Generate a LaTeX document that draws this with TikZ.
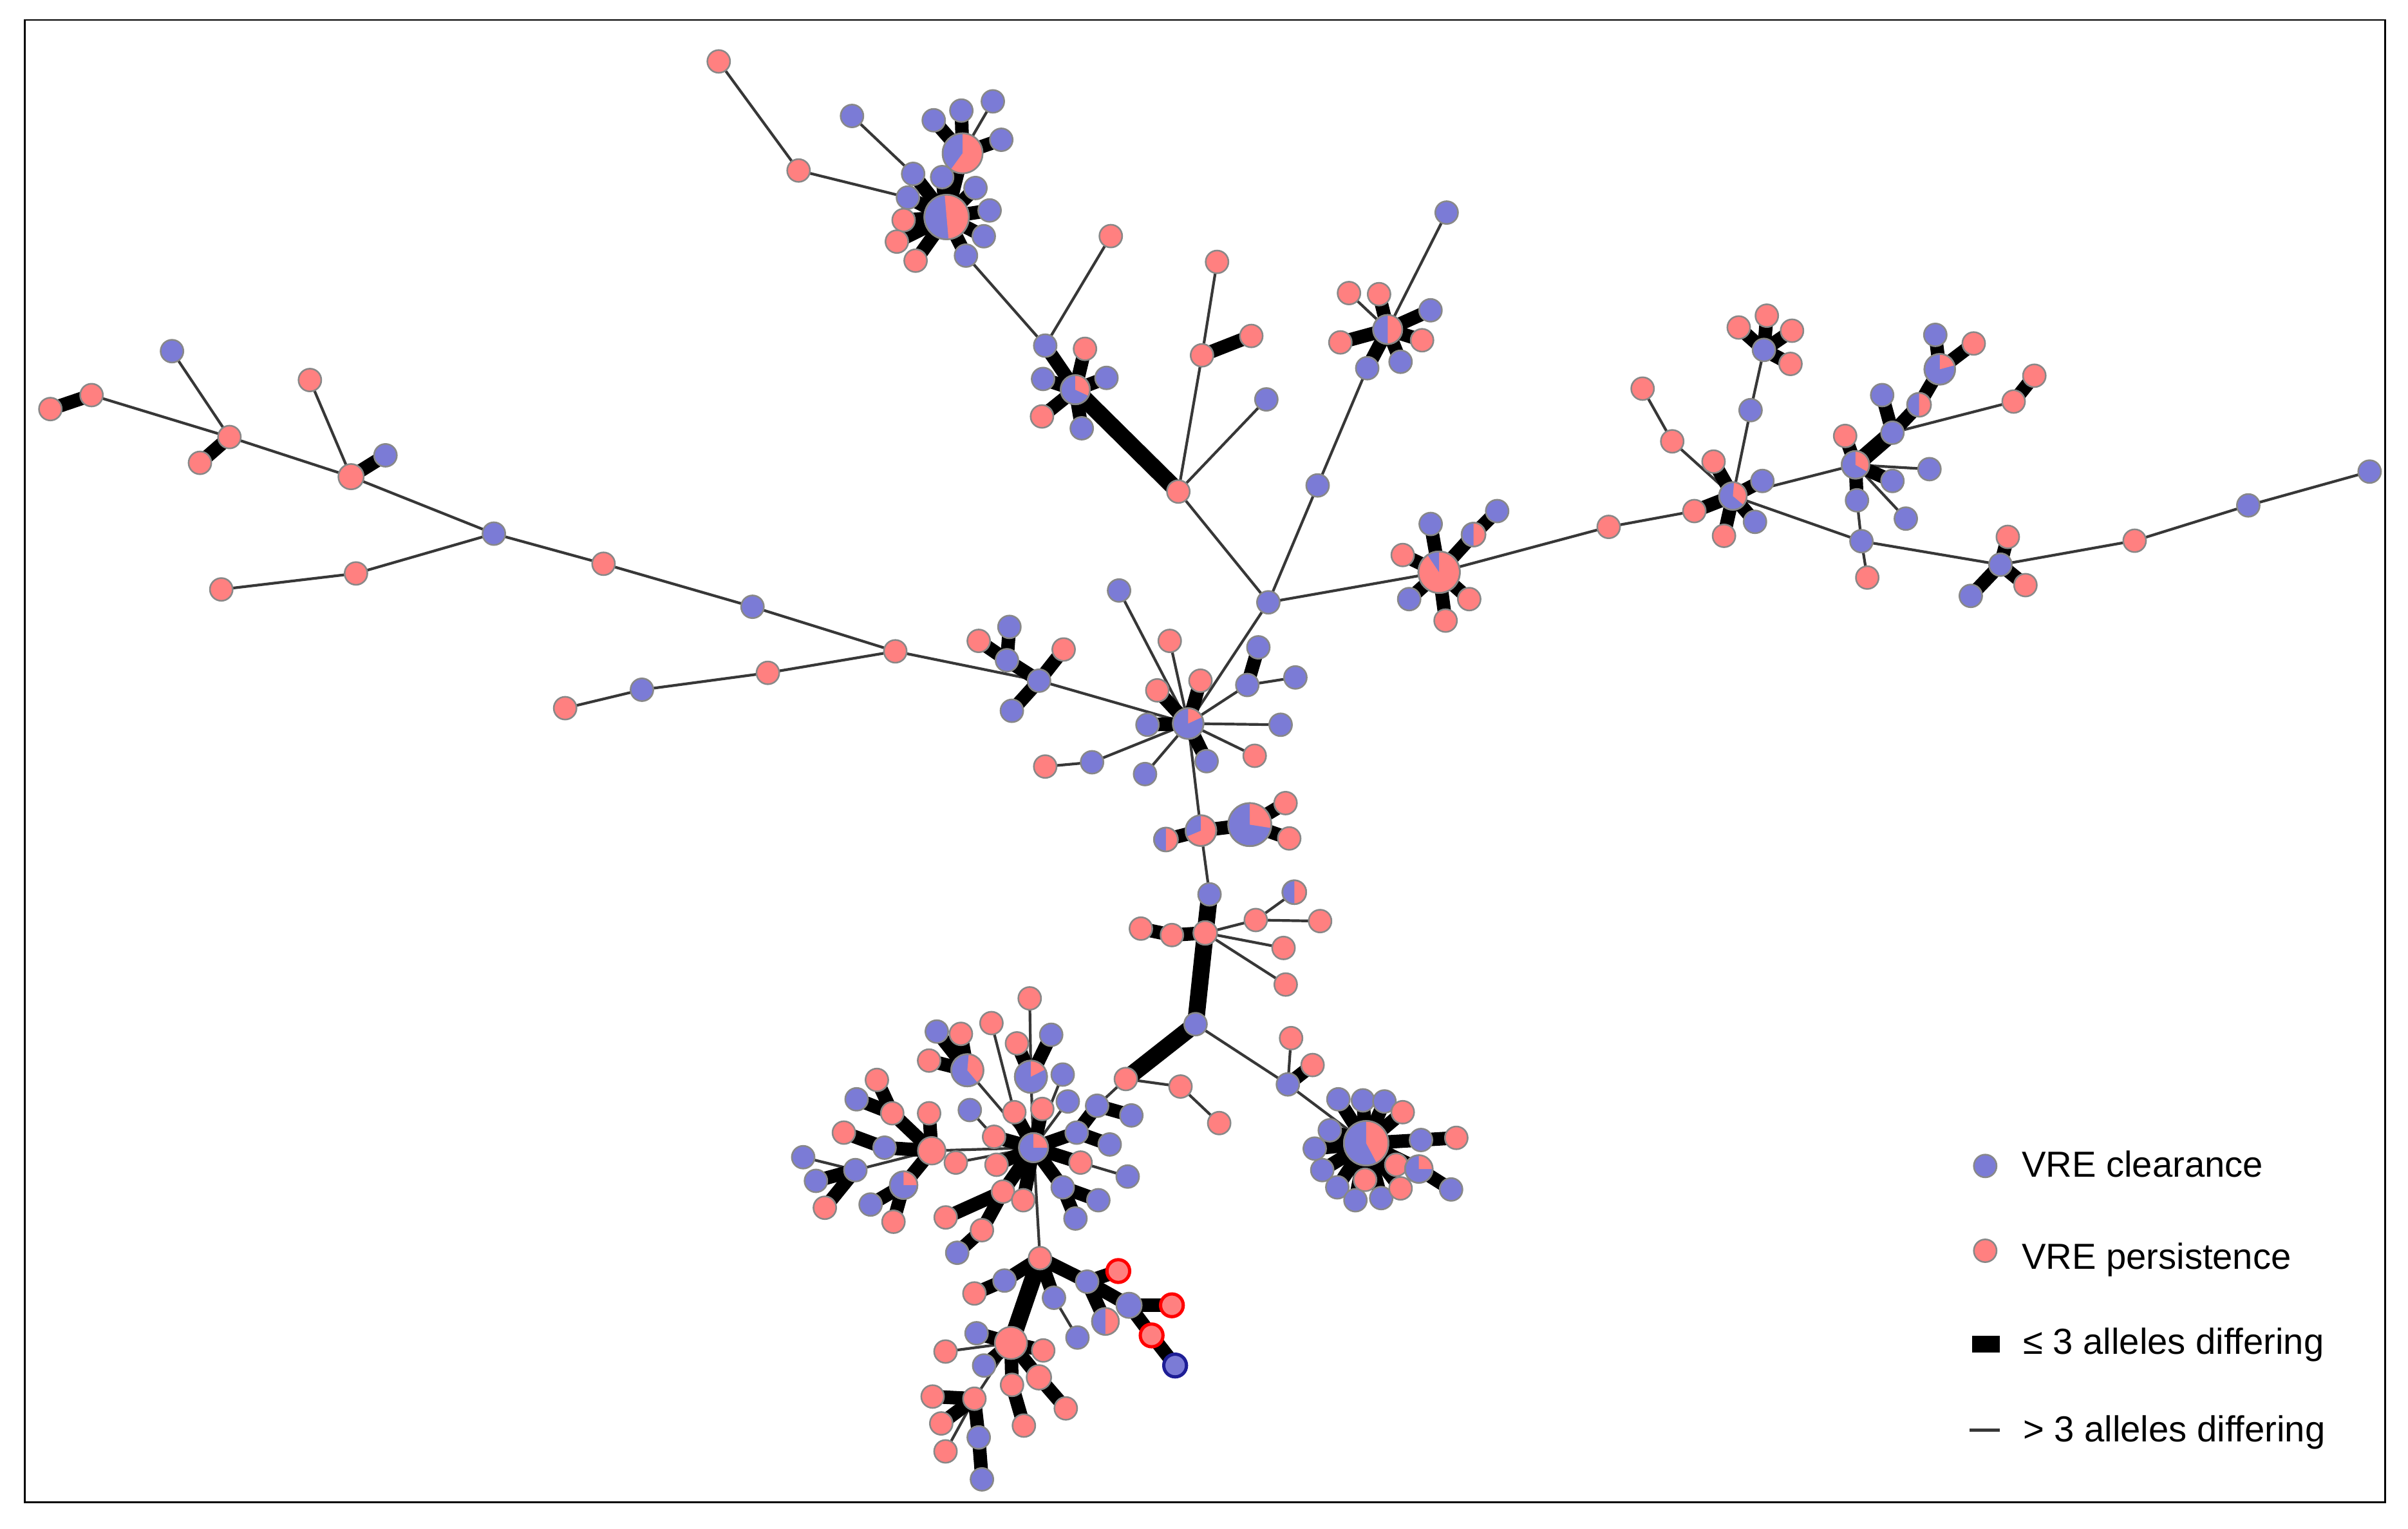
\documentclass[tikz,border=0pt]{standalone}
\usepackage{fontspec}
\setmainfont{Liberation Sans}
\pgfdeclarelayer{bgzero}
\pgfdeclarelayer{edges}
\pgfsetlayers{bgzero,edges,main}
\definecolor{vb}{RGB}{123,123,214}
\definecolor{vr}{RGB}{255,128,128}
\definecolor{ndg}{RGB}{136,136,136}
\definecolor{edg}{RGB}{55,55,55}
\definecolor{navyb}{RGB}{30,30,150}
\newcommand\pwedge[5]{\fill[#5] (#1.center) -- ++(#3:#2) arc[start angle=#3,end angle=#4,radius=#2] -- cycle; \draw[draw=ndg,line width=0.3pt] (#1.center) circle[radius=#2];}
\begin{document}
\begin{tikzpicture}[x=0.01cm,y=-0.01cm,
  nd/.style={circle,inner sep=0pt,outer sep=0pt,minimum size=0.148cm,draw=ndg,line width=0.3pt},
  blu/.style={nd,fill=vb},
  rd/.style={nd,fill=vr},
  rdo/.style={rd,draw=red,line width=0.6pt},
  bluo/.style={blu,draw=navyb,line width=0.6pt},
  te/.style={draw=edg,line width=0.5pt},
  tk/.style={draw=black,line width=0.088cm},
  vtk/.style={draw=black,line width=0.11cm},
  lgt/.style={anchor=base west,inner sep=0pt,font=\fontsize{6.7pt}{8pt}\selectfont}]
\useasboundingbox (0,0) rectangle (1568,995);
\begin{pgfonlayer}{bgzero}
\fill[white] (0,0) rectangle (1568,995);
\draw[line width=0.35pt] (16,13) rectangle (1553,978);
\end{pgfonlayer}
% ---------- top cluster
\node[rd] (T0) at (468,40) {};
\node[rd] (T1) at (520,111) {};
\node[blu,minimum size=0.29cm] (TP1) at (616.4,141.3) {};
\node[blu,minimum size=0.26cm] (TP2) at (626.8,99.8) {};
\node[blu] (a1) at (554.8,75.5) {};
\node[blu] (a2) at (608,78.3) {};
\node[blu] (a3) at (626,72) {};
\node[blu] (a4) at (646.5,66) {};
\node[blu] (a5) at (652,91) {};
\node[blu] (a6) at (594.6,113.2) {};
\node[blu] (a7) at (613.5,115.3) {};
\node[blu] (a8) at (635.2,122.4) {};
\node[blu] (a9) at (591.2,128.6) {};
\node[blu] (a10) at (644.4,137) {};
\node[rd] (a11) at (588.4,143.3) {};
\node[blu] (a12) at (640.6,153.8) {};
\node[rd] (a13) at (584,157.3) {};
\node[rd] (a14) at (596.2,169.7) {};
\node[blu] (a15) at (629,166.4) {};
% ---------- second cluster
\node[blu] (b0) at (680.6,225) {};
\node[rd] (b1) at (723.3,153.7) {};
\node[blu,minimum size=0.19cm] (BP) at (700.2,253.7) {};
\node[rd] (b2) at (706.5,227.1) {};
\node[blu] (b3) at (679.2,246.7) {};
\node[blu] (b4) at (720.5,246) {};
\node[rd] (b5) at (678.5,271.1) {};
\node[blu] (b6) at (704.4,278.8) {};
\node[rd] (c0) at (767.3,320) {};
\node[rd] (c1) at (792.5,170.5) {};
\node[rd] (c2) at (782.7,231.3) {};
\node[rd] (c3) at (814.8,218.7) {};
\node[blu] (c4) at (824.6,260) {};
% ---------- third cluster
\node[blu] (d0) at (942,138.4) {};
\node[blu,minimum size=0.19cm] (DP) at (903.6,214.5) {};
\node[rd] (d1) at (878.4,190.8) {};
\node[rd] (d2) at (898,191.5) {};
\node[blu] (d3) at (931.5,202) {};
\node[rd] (d4) at (872.8,222.9) {};
\node[rd] (d5) at (926,221.5) {};
\node[blu] (d6) at (912,235.5) {};
\node[blu] (d7) at (890.3,239.7) {};
\node[blu] (d8) at (858,316) {};
\node[blu] (H) at (825.9,392.1) {};
% ---------- right branch
\node[rd,minimum size=0.27cm] (EP) at (937.1,372.5) {};
\node[blu] (e1) at (931.6,341.1) {};
\node[rd] (e2) at (913.4,361.3) {};
\node[blu,minimum size=0.155cm] (EH) at (959.5,348) {};
\node[blu] (e3) at (974.9,332.7) {};
\node[blu] (e4) at (917.6,390) {};
\node[rd] (e5) at (941.3,404) {};
\node[rd] (e6) at (956.7,390) {};
\node[rd] (f0) at (1047.5,343) {};
\node[rd] (f1) at (1103.3,332.7) {};
\node[blu,minimum size=0.18cm] (FP) at (1128.4,322.9) {};
\node[rd] (f2) at (1115.8,300.5) {};
\node[blu] (f3) at (1147.6,313.1) {};
\node[blu] (f4) at (1142.8,339.7) {};
\node[rd] (f5) at (1122.6,348.8) {};
\node[rd] (f6) at (1088.9,287.3) {};
\node[rd] (f7) at (1069.6,253) {};
\node[blu] (f8) at (1139.9,267) {};
\node[blu] (g0) at (1148.6,227.8) {};
\node[rd] (g1) at (1132.2,213.2) {};
\node[rd] (g2) at (1150.5,205.5) {};
\node[rd] (g3) at (1166.9,215.3) {};
\node[rd] (g4) at (1165.9,236.9) {};
\node[blu,minimum size=0.18cm] (GP) at (1208.2,302.6) {};
\node[rd] (g5) at (1201.5,283.8) {};
\node[blu] (g6) at (1232.3,281.7) {};
\node[blu] (g7) at (1225.6,257.2) {};
\node[blu,minimum size=0.155cm] (GH) at (1249.6,263.5) {};
\node[blu,minimum size=0.2cm] (GQ) at (1263.1,240.4) {};
\node[blu] (g8) at (1260.2,218) {};
\node[rd] (g9) at (1285.2,223.6) {};
\node[rd] (g10) at (1311.2,261.4) {};
\node[rd] (g11) at (1324.7,244.6) {};
\node[blu] (g12) at (1256.4,305.4) {};
\node[blu] (g13) at (1232.3,313.1) {};
\node[blu] (g14) at (1209.2,325.7) {};
\node[blu] (g15) at (1241,337.6) {};
\node[blu] (h0) at (1212.1,352.3) {};
\node[rd] (h1) at (1215.9,376) {};
\node[blu] (HQ) at (1302.6,367.6) {};
\node[rd] (h2) at (1307.4,349.5) {};
\node[rd] (h3) at (1318.9,380.9) {};
\node[blu] (h4) at (1283.3,387.9) {};
\node[rd] (i0) at (1390,352) {};
\node[blu] (i1) at (1464,329) {};
\node[blu] (i2) at (1543,307) {};
% ---------- centre
\node[blu,minimum size=0.2cm] (CP) at (773.7,471) {};
\node[blu] (j1) at (728.7,384.4) {};
\node[rd] (j2) at (761.7,417.2) {};
\node[rd] (j3) at (753.6,449.4) {};
\node[rd] (j4) at (781.7,443.1) {};
\node[blu] (j5) at (819.4,421.4) {};
\node[blu] (j6) at (812.2,445.9) {};
\node[blu] (j7) at (843.5,441) {};
\node[blu] (j8) at (747.2,471.8) {};
\node[blu] (j9) at (833.9,471.8) {};
\node[rd] (j10) at (817,492) {};
\node[blu] (j11) at (785.7,495.5) {};
\node[blu] (j12) at (745.6,503.9) {};
\node[blu] (j13) at (711.1,496.2) {};
\node[rd] (j14) at (680.6,499) {};
\node[blu] (k0) at (676.6,443.1) {};
\node[blu] (k1) at (657.3,408.1) {};
\node[blu] (k2) at (655.7,429.8) {};
\node[rd] (k3) at (637.3,417.2) {};
\node[rd] (k4) at (692.6,422.8) {};
\node[blu] (k5) at (658.9,462.7) {};
% ---------- trunk
\node[rd,minimum size=0.2cm] (MP2) at (782,540.7) {};
\node[blu,minimum size=0.155cm] (MH) at (759.2,546.5) {};
\node[blu,minimum size=0.28cm] (MB) at (813.8,536.8) {};
\node[rd] (m1) at (837.1,522.8) {};
\node[rd] (m2) at (839.5,545.8) {};
\node[blu] (n0) at (787.6,582.2) {};
\node[rd,minimum size=0.155cm] (n1) at (784.8,607.3) {};
\node[rd] (n2) at (763.1,608.7) {};
\node[rd] (n3) at (742.9,604.5) {};
\node[blu,minimum size=0.155cm] (n4) at (842.8,580.8) {};
\node[rd] (n5) at (817.7,598.9) {};
\node[rd] (n6) at (859.6,599.6) {};
\node[rd] (n7) at (835.8,617.1) {};
\node[rd] (n8) at (837.2,640.9) {};
\node[blu] (n9) at (778.5,666.7) {};
\node[rd] (p0) at (733.1,702.4) {};
\node[rd] (p1) at (768.7,707.3) {};
\node[rd] (p2) at (793.9,731.1) {};
\node[blu] (q0) at (838.6,705.9) {};
\node[rd] (q1) at (840.7,675.8) {};
\node[rd] (q2) at (854.7,693.3) {};
% ---------- lower right cluster
\node[blu,minimum size=0.29cm] (QB) at (889.6,744.2) {};
\node[blu] (q3) at (871.5,715.6) {};
\node[blu] (q4) at (887.5,716.3) {};
\node[blu] (q5) at (901.5,717) {};
\node[rd] (q6) at (913.4,724) {};
\node[blu] (q7) at (865.9,735.8) {};
\node[blu] (q8) at (856.1,747.7) {};
\node[blu] (q9) at (861,761.7) {};
\node[blu] (q10) at (870.8,772.9) {};
\node[blu] (q11) at (882.6,781.3) {};
\node[rd] (q12) at (888.9,768) {};
\node[blu] (q13) at (899.4,779.9) {};
\node[rd] (q14) at (912,773.6) {};
\node[rd] (q15) at (909.2,758.2) {};
\node[blu,minimum size=0.18cm] (QQ) at (923.9,761) {};
\node[blu] (q16) at (944.9,774.3) {};
\node[blu] (q17) at (925.3,742.1) {};
\node[rd] (q18) at (948.3,740.7) {};
% ---------- lower left cluster
\node[blu,minimum size=0.19cm] (AP) at (673,747.1) {};
\node[blu] (r1) at (714.4,719.8) {};
\node[blu] (r2) at (736.7,726.1) {};
\node[blu] (r3) at (701.1,737.3) {};
\node[blu] (r4) at (722.6,745) {};
\node[rd] (r5) at (670.5,649.9) {};
\node[blu,minimum size=0.21cm] (AA) at (671.3,700.9) {};
\node[rd] (r6) at (662.2,679.2) {};
\node[blu] (r7) at (684.5,673.6) {};
\node[blu] (r8) at (692,699.5) {};
\node[blu] (r9) at (695.3,717) {};
\node[rd] (r10) at (645.6,666) {};
\node[rd] (r11) at (660.5,724) {};
\node[rd] (r12) at (678.7,721.9) {};
\node[blu] (r13) at (631.5,722.6) {};
\node[rd] (r14) at (647.3,740) {};
\node[blu,minimum size=0.21cm] (AB) at (629.9,696.7) {};
\node[blu] (r15) at (610,671.5) {};
\node[rd] (r16) at (625.7,673) {};
\node[rd] (r17) at (605,690.4) {};
\node[rd,minimum size=0.18cm] (RB) at (606.7,749.1) {};
\node[rd] (r18) at (622.4,756.8) {};
\node[rd] (r19) at (648.9,758.2) {};
\node[rd] (r20) at (653.1,775.7) {};
\node[rd] (r21) at (615.8,792.5) {};
\node[rd] (r22) at (639.4,800.8) {};
\node[blu] (r23) at (623.3,815.5) {};
\node[rd] (r24) at (666.3,781.3) {};
\node[rd] (r25) at (703.6,756.8) {};
\node[blu] (r26) at (734.3,765.9) {};
\node[blu] (r27) at (692,772.9) {};
\node[blu] (r28) at (715.2,781.3) {};
\node[blu] (r29) at (700.3,793.2) {};
\node[rd] (s1) at (605,724.7) {};
\node[rd] (s2) at (581,724.7) {};
\node[rd] (s3) at (571,703) {};
\node[blu] (s4) at (557.8,715.6) {};
\node[blu] (s5) at (576,747.1) {};
\node[rd] (s6) at (549.5,737.3) {};
\node[blu] (s7) at (557,761.7) {};
\node[blu] (s8) at (523,753.3) {};
\node[blu] (s9) at (531.3,768.7) {};
\node[rd] (s10) at (537.1,786.2) {};
\node[blu,minimum size=0.18cm] (SQ) at (588.4,771.5) {};
\node[blu] (s11) at (566.9,784.1) {};
\node[rd] (s12) at (581.8,795.3) {};
% ---------- bottom cluster
\node[rd] (S) at (677.2,819) {};
\node[blu] (t1) at (654.1,833.6) {};
\node[rd] (t2) at (634.5,842) {};
\node[blu] (t3) at (707.9,834.3) {};
\node[rdo] (t4) at (728.2,827.4) {};
\node[blu,minimum size=0.165cm] (t5) at (735.2,849.7) {};
\node[blu,minimum size=0.175cm] (t6) at (719.8,860.2) {};
\node[rdo] (t7) at (763.1,849.7) {};
\node[rdo] (t8) at (749.9,869.3) {};
\node[bluo] (t9) at (765.2,888.9) {};
\node[blu] (t10) at (686.3,844.8) {};
\node[blu] (t11) at (701.6,870.7) {};
\node[rd,minimum size=0.21cm] (T) at (658.3,874.2) {};
\node[blu] (t12) at (635.9,867.9) {};
\node[rd] (t13) at (615.7,879.8) {};
\node[rd] (t14) at (679.3,879.1) {};
\node[blu] (t15) at (640.8,888.9) {};
\node[rd] (t16) at (659,901.5) {};
\node[rd] (t17) at (666.7,928) {};
\node[rd,minimum size=0.16cm] (t18) at (676.5,896.6) {};
\node[rd] (t19) at (694,916.8) {};
\node[rd] (t20) at (634.5,910.5) {};
\node[rd] (t21) at (607.3,909.1) {};
\node[rd] (t22) at (612.9,926.6) {};
\node[rd] (t23) at (615.7,944.8) {};
\node[blu] (t24) at (637.3,935.7) {};
\node[blu] (t25) at (639.4,963) {};
% ---------- left branch
\node[blu] (L1) at (321.6,347.4) {};
\node[rd] (L2) at (393,367) {};
\node[blu] (L3) at (490,395) {};
\node[rd] (L4) at (583,424) {};
\node[rd] (M1) at (368,461) {};
\node[blu] (M2) at (418,449) {};
\node[rd] (M3) at (500,438) {};
\node[blu] (w1) at (112,228.6) {};
\node[rd] (w2) at (149.4,284.5) {};
\node[rd] (w3) at (59.6,257.2) {};
\node[rd] (w4) at (32.8,266.3) {};
\node[rd] (w5) at (130.2,301.3) {};
\node[rd,minimum size=0.165cm] (w6) at (228.6,310.3) {};
\node[rd] (w7) at (201.8,247.4) {};
\node[blu] (w8) at (251,296.4) {};
\node[rd] (w9) at (231.8,373.3) {};
\node[rd] (w10) at (144.1,383.7) {};
% ---------- pie wedges
\pwedge{TP1}{0.145cm}{-85}{95}{vr}
\pwedge{TP2}{0.13cm}{-126}{90}{vr}
\pwedge{BP}{0.095cm}{-25}{90}{vr}
\pwedge{DP}{0.095cm}{-90}{90}{vr}
\pwedge{EP}{0.135cm}{90}{124}{vb}
\pwedge{EH}{0.0775cm}{-90}{90}{vr}
\pwedge{FP}{0.09cm}{-40}{85}{vr}
\pwedge{GP}{0.09cm}{-30}{90}{vr}
\pwedge{GH}{0.0775cm}{-90}{90}{vr}
\pwedge{GQ}{0.1cm}{15}{90}{vr}
\pwedge{CP}{0.1cm}{25}{90}{vr}
\pwedge{MP2}{0.1cm}{90}{203}{vb}
\pwedge{MH}{0.0775cm}{-90}{90}{vr}
\pwedge{MB}{0.14cm}{-9}{90}{vr}
\pwedge{n4}{0.0775cm}{-90}{90}{vr}
\pwedge{QB}{0.145cm}{-62}{90}{vr}
\pwedge{QQ}{0.09cm}{0}{90}{vr}
\pwedge{AA}{0.105cm}{27}{90}{vr}
\pwedge{AB}{0.105cm}{-50}{85}{vr}
\pwedge{AP}{0.095cm}{0}{90}{vr}
\pwedge{SQ}{0.09cm}{0}{90}{vr}
\pwedge{t6}{0.0875cm}{-90}{90}{vr}
% ---------- edges
\begin{pgfonlayer}{edges}
\foreach \a/\b in {T0/T1,T1/a9,a1/a6,a4/TP2,a15/b0,b0/b1,c1/c2,c2/c0,c4/c0,c0/H,d0/DP,d1/DP,d7/d8,d8/H,H/EP,EP/f0,f0/f1,f6/FP,f7/f6,f8/FP,g0/f8,FP/GP,FP/h0,g6/g10,g12/GP,g15/GP,g14/h0,h0/h1,h0/HQ,HQ/i0,i0/i1,i1/i2,H/CP,j1/CP,j2/CP,j6/CP,j7/j6,j9/CP,j10/CP,j12/CP,j13/CP,j14/j13,k0/CP,k0/L4,CP/MP2,MP2/n0,n4/n5,n5/n1,n6/n5,n7/n1,n8/n1,n9/q0,q1/q0,q0/QB,p1/p0,p2/p1,p0/r1,r5/AA,AA/AP,r8/AP,r9/AP,r10/r11,r13/r14,AB/AP,RB/AP,r18/AP,r26/r25,AP/S,s7/RB,s8/s7,t11/t10,t13/T,t20/T,t23/t20,L1/L2,L2/L3,L3/L4,M1/M2,M2/M3,M3/L4,w1/w2,w3/w2,w2/w6,w7/w6,w6/L1,w9/L1,w10/w9}
  \draw[te] (\a.center) -- (\b.center);
\foreach \a/\b in {a2/TP2,a3/TP2,a5/TP2,TP2/TP1,a6/TP1,a7/TP1,a8/TP1,a9/TP1,a10/TP1,a11/TP1,a12/TP1,a13/TP1,a14/TP1,a15/TP1,b0/BP,b2/BP,b3/BP,b4/BP,b5/BP,b6/BP,c3/c2,d2/DP,d3/DP,d4/DP,d5/DP,d6/DP,d7/DP,e1/EP,e2/EP,EH/EP,e3/EH,e4/EP,e5/EP,e6/EP,f1/FP,f2/FP,f3/FP,f4/FP,f5/FP,g1/g0,g2/g0,g3/g0,g4/g0,g5/GP,g7/g6,GH/g6,GQ/GH,g8/GQ,g9/GQ,g11/g10,g13/GP,g14/GP,h2/HQ,h3/HQ,h4/HQ,j3/CP,j4/CP,j5/j6,j8/CP,j11/CP,k1/k2,k3/k2,k2/k0,k4/k0,k5/k0,MH/MP2,MP2/MB,m1/MB,m2/MB,n2/n1,n3/n2,q2/q0,q3/QB,q4/QB,q5/QB,q6/QB,q7/QB,q8/QB,q9/QB,q10/QB,q11/QB,q12/QB,q13/QB,q14/QB,q15/QB,QQ/QB,q16/QQ,q17/QB,q18/q17,r3/AP,r3/r1,r1/r2,r3/r4,r6/AA,r7/AA,r11/AP,r12/AP,r14/AP,r15/AB,r16/AB,r17/AB,r19/AP,r20/AP,r21/r20,r22/r20,r23/r22,r24/AP,r25/AP,r27/AP,r28/r27,r29/r27,s1/RB,s2/RB,s3/s2,s4/s2,s5/RB,s6/s5,s9/s7,s10/s7,SQ/RB,s11/SQ,s12/SQ,t1/S,t2/t1,t3/S,t4/t3,t5/t3,t6/t3,t7/t5,t8/t5,t9/t8,t10/S,t12/T,t14/T,t15/T,t16/T,t17/t16,t18/T,t19/t18,t21/t20,t22/t20,t24/t20,t25/t24,w3/w4,w2/w5,w6/w8}
  \draw[tk] (\a.center) -- (\b.center);
\foreach \a/\b in {BP/c0,g6/GP,n0/n1,n1/n9,n9/p0,S/T}
  \draw[vtk] (\a.center) -- (\b.center);
\end{pgfonlayer}
% ---------- legend
\node[blu] (lg1) at (1292.7,759) {};
\node[lgt] (lt1) at (1315.8,766) {VRE clearance};
\node[rd] (lg2) at (1292.7,814.2) {};
\node[lgt] (lt2) at (1315.8,826) {VRE persistence};
\node[fill=black,inner sep=0pt,minimum width=0.18cm,minimum height=0.11cm] (lg3) at (1293.2,875) {};
\node[lgt] (lt3) at (1316.7,881.3) {≤ 3 alleles differing};
\coordinate (lc1) at (1282.5,931);
\coordinate (lc2) at (1302.1,931);
\draw[te] (lc1) -- (lc2);
\node[lgt] (lt4) at (1316.7,938.6) {> 3 alleles differing};
\end{tikzpicture}
\end{document}
